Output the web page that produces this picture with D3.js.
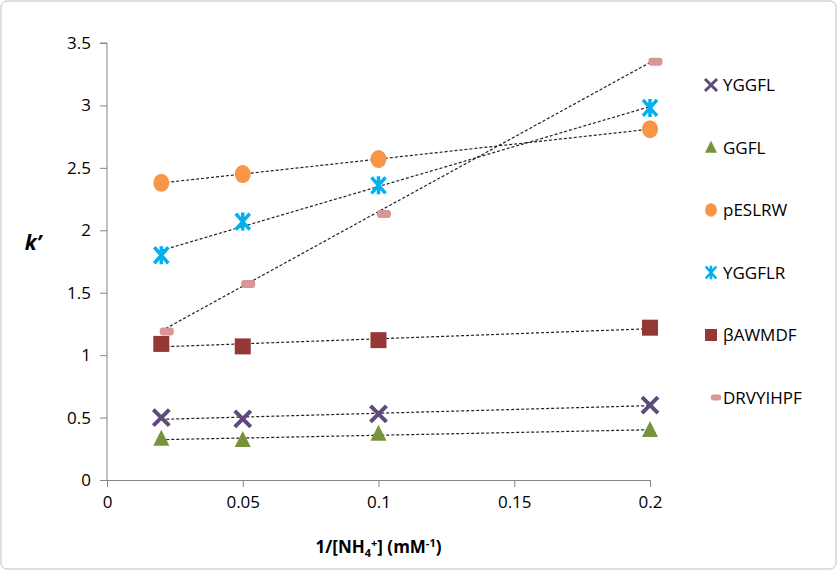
<!DOCTYPE html>
<html><head><meta charset="utf-8">
<script src="https://cdn.jsdelivr.net/npm/d3@7"></script>
<style>body{margin:0;background:#fff;font-family:"Open Sans",sans-serif}</style>
</head><body><div id="chart"></div>
<script>
const xVals = [0.02, 0.05, 0.1, 0.2];
const names = ["YGGFL", "GGFL", "pESLRW", "YGGFLR", "βAWMDF", "DRVYIHPF"];
const yggfl = [0.50, 0.49, 0.53, 0.60];
const ggfl = [0.33, 0.32, 0.37, 0.40];
const peslrw = [2.38, 2.45, 2.57, 2.81];
const yggflr = [1.80, 2.07, 2.36, 2.98];
const bawmdf = [1.09, 1.07, 1.12, 1.22];
const drvyihpf = [1.19, 1.57, 2.13, 3.35];
const yTicks = [0, 0.5, 1, 1.5, 2, 2.5, 3, 3.5];
const xTicks = [0, 0.05, 0.1, 0.15, 0.2];

const series = [
  {name: names[0], vals: yggfl, color: "#604a7b", sym: "x", dx: 0},
  {name: names[1], vals: ggfl, color: "#77933c", sym: "tri", dx: 0},
  {name: names[2], vals: peslrw, color: "#f79646", sym: "circle", dx: 0},
  {name: names[3], vals: yggflr, color: "#00b0f0", sym: "star", dx: 0},
  {name: names[4], vals: bawmdf, color: "#953735", sym: "square", dx: 0},
  {name: names[5], vals: drvyihpf, color: "#d99694", sym: "dash", dx: 0.002}
];

const width = 838, height = 571;
const margin = {top: 43, left: 107, right: 188, bottom: 91};

const svg = d3.select("#chart").append("svg").attr("width", width).attr("height", height);
svg.append("rect").attr("x", 1).attr("y", 1).attr("width", width - 3).attr("height", height - 3)
  .attr("rx", 6).attr("fill", "none").attr("stroke", "#bfbfbf");

const x = d3.scaleLinear().domain([0, 0.2]).range([margin.left, width - margin.right]);
const y = d3.scaleLinear().domain([0, 3.5]).range([height - margin.bottom, margin.top]);

const xAxis = svg.append("g").attr("transform", `translate(0,${y(0)})`)
  .call(d3.axisBottom(x).tickValues(xTicks).tickFormat(d => d3.format("")(+d.toFixed(2))).tickSize(7).tickPadding(9));
const yAxis = svg.append("g").attr("transform", `translate(${x(0)},0)`)
  .call(d3.axisLeft(y).tickValues(yTicks).tickFormat(d => d).tickSize(7).tickPadding(9));
[xAxis, yAxis].forEach(g => {
  g.selectAll("path,line").attr("stroke", "#868686");
  g.selectAll("text").attr("font-size", 17).attr("fill", "#000").attr("font-family", "Open Sans");
});
yAxis.select(".domain").attr("d", `M${-7},${y(3.5)}H0V${y(0)}`);

// linear trendlines
function fit(xs, ys) {
  const mx = d3.mean(xs), my = d3.mean(ys);
  const b = d3.sum(xs, (v, i) => (v - mx) * (ys[i] - my)) / d3.sum(xs, v => (v - mx) ** 2);
  return [b, my - b * mx];
}
series.forEach(s => {
  const [b, a] = fit(xVals, s.vals);
  svg.append("line")
    .attr("x1", x(0.02)).attr("y1", y(a + b * 0.02))
    .attr("x2", x(0.2)).attr("y2", y(a + b * 0.2))
    .attr("stroke", "#222").attr("stroke-width", 1.2).attr("stroke-dasharray", "3,2");
});

function marker(g, sym, color, cx, cy, k) {
  k = k || 1;
  if (sym === "x") {
    g.append("path").attr("d", `M${cx-8*k},${cy-8*k}L${cx+8*k},${cy+8*k}M${cx-8*k},${cy+8*k}L${cx+8*k},${cy-8*k}`)
      .attr("stroke", color).attr("stroke-width", 4 * k);
  } else if (sym === "tri") {
    g.append("path").attr("d", `M${cx},${cy-9*k}L${cx+8*k},${cy+7*k}L${cx-8*k},${cy+7*k}Z`).attr("fill", color);
  } else if (sym === "circle") {
    g.append("ellipse").attr("cx", cx).attr("cy", cy).attr("rx", 8 * k).attr("ry", 9 * k).attr("fill", color);
  } else if (sym === "star") {
    g.append("path").attr("d", `M${cx-7*k},${cy-8*k}L${cx+7*k},${cy+8*k}M${cx-7*k},${cy+8*k}L${cx+7*k},${cy-8*k}M${cx},${cy-9*k}V${cy+9*k}`)
      .attr("stroke", color).attr("stroke-width", 3.5 * k);
  } else if (sym === "square") {
    g.append("rect").attr("x", cx - 8 * k).attr("y", cy - 8 * k).attr("width", 16 * k).attr("height", 16 * k).attr("fill", color);
  } else {
    g.append("rect").attr("x", cx - 7 * k).attr("y", cy - 4 * k).attr("width", 14 * k).attr("height", 8 * k).attr("rx", 3).attr("fill", color);
  }
}

const marks = svg.append("g");
series.forEach(s => s.vals.forEach((v, i) => marker(marks, s.sym, s.color, x(xVals[i] + s.dx), y(v))));

// legend
const leg = svg.append("g");
series.forEach((s, i) => {
  const ly = 85 + i * 62.5;
  marker(leg, s.sym, s.color, s.sym === "dash" ? 716 : 711, ly, 0.75);
  leg.append("text").attr("x", 723).attr("y", ly + 6).attr("font-size", 17).text(s.name);
});

svg.append("text").attr("x", 33).attr("y", 250).attr("font-size", 21).attr("font-weight", "bold")
  .attr("font-style", "italic").attr("text-anchor", "middle").text("k’");
const xt = svg.append("text").attr("x", x(0.1)).attr("y", 553).attr("font-size", 17).attr("font-weight", "bold")
  .attr("text-anchor", "middle");
xt.append("tspan").text("1/[NH");
xt.append("tspan").attr("font-size", 11).attr("dy", 4).text("4");
xt.append("tspan").attr("font-size", 11).attr("dy", -10).text("+");
xt.append("tspan").attr("dy", 6).text("] (mM");
xt.append("tspan").attr("font-size", 11).attr("dy", -6).text("-1");
xt.append("tspan").attr("dy", 6).text(")");
</script></body></html>
